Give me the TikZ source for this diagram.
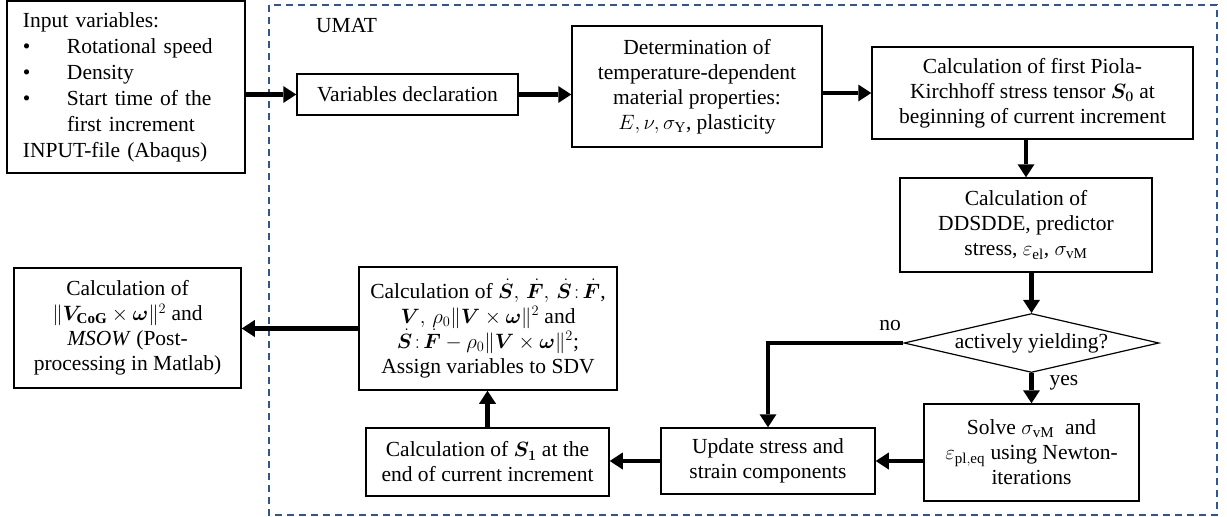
\documentclass[tikz,border=0pt]{standalone}
\usepackage{amsmath}
\usepackage{bm}
\usepackage{fontspec}
\setmainfont{Liberation Serif}
\usetikzlibrary{arrows.meta,shapes.geometric}
\definecolor{frameblue}{RGB}{47,85,151}
\begin{document}
\begin{tikzpicture}[x=1pt,y=-1pt,
  font=\fontsize{21.5}{25}\selectfont,
  box/.style={draw, line width=1.5pt, align=center, inner sep=0pt, fill=white},
  flow/.style={line width=4.5pt, -{Triangle[length=13pt,width=17pt,line width=0pt]}},
  lbl/.style={inner sep=0pt},
  umatframe/.style={draw=frameblue, line width=1.5pt, dash pattern=on 7pt off 5pt}]
\useasboundingbox (0,0) rectangle (1227,517);

\draw[umatframe] (269,5) rectangle (1217,515);
\node[lbl, anchor=west] (umat) at (316,26) {UMAT};

\node[box, align=left, text width=206pt, inner xsep=16pt, minimum height=172pt,
      font=\fontsize{21.5}{26}\selectfont] (input) at (126,87)
  {Input variables:\\
   \makebox[44pt][l]{\textbullet}Rotational speed\\
   \makebox[44pt][l]{\textbullet}Density\\
   \makebox[44pt][l]{\textbullet}Start time of the\\
   \hspace*{44pt}first increment\\
   INPUT-file (Abaqus)};

\node[box, minimum width=221pt, minimum height=41pt] (vars) at (407.5,94.5)
  {Variables declaration};

\node[box, minimum width=250pt, minimum height=121pt] (det) at (697,86.5)
  {Determination of\\ temperature-dependent\\ material properties:\\
   $E, \nu, \sigma_{\mathrm{Y}}$, plasticity};

\node[box, minimum width=321pt, minimum height=92pt] (piola) at (1032.5,93)
  {Calculation of first Piola-\\ Kirchhoff stress tensor $\bm{S}_{\bm{0}}$ at\\
   beginning of current increment};

\node[box, minimum width=252pt, minimum height=94pt] (ddsdde) at (1026,225)
  {Calculation of\\ DDSDDE, predictor\\
   stress, $\varepsilon_{\mathrm{el}}$, $\sigma_{\mathrm{vM}}$};

\node[draw, shape=diamond, line width=1.2pt, inner sep=0pt, aspect=4.3,
      minimum width=255pt, minimum height=59pt, fill=white] (yield) at (1031.5,343)
  {actively yielding?};

\node[box, minimum width=215pt, minimum height=97pt] (solve) at (1031.5,452.5)
  {Solve $\sigma_{\mathrm{vM}}$\ \ and\\
   $\varepsilon_{\mathrm{pl,eq}}$ using Newton-\\ iterations};

\node[box, minimum width=214pt, minimum height=66pt] (update) at (768,461)
  {Update stress and\\ strain components};

\node[box, minimum width=243pt, minimum height=68pt] (sone) at (487.5,462)
  {Calculation of $\bm{S}_{\bm{1}}$ at the\\ end of current increment};

\node[box, minimum width=258pt, minimum height=123pt] (sdv) at (488,328.5)
  {Calculation of $\dot{\bm{S}},\,\dot{\bm{F}},\,\dot{\bm{S}}\colon\!\dot{\bm{F}}$,\\
   $\bm{V},\,\rho_0\|\bm{V}\times\bm{\omega}\|^2$ and\\
   $\dot{\bm{S}}\colon\!\dot{\bm{F}}-\rho_0\|\bm{V}\times\bm{\omega}\|^2$;\\
   Assign variables to SDV};

\node[box, minimum width=227pt, minimum height=120pt] (msow) at (127.5,328)
  {Calculation of\\ $\|\bm{V}_{\mathbf{CoG}}\times\bm{\omega}\|^2$ and\\
   \textit{MSOW} (Post-\\ processing in Matlab)};

\node[lbl] (no) at (890,326) {no};
\node[lbl] (yes) at (1064,383) {yes};

\draw[flow] (input.east |- vars.west) -- (vars.west);
\draw[flow] (vars.east) -- (vars.east -| det.west);
\draw[flow] (det.east |- piola.west) -- (piola.west);
\draw[flow] (piola.south -| ddsdde.north) -- (ddsdde.north);
\draw[flow] (ddsdde.south -| yield.north) -- (yield.north);
\draw[flow] (yield.south) -- (solve.north);
\draw[flow] (yield.west) -| (update.north);
\draw[flow] (solve.west |- update.east) -- (update.east);
\draw[flow] (update.west) -- (update.west -| sone.east);
\draw[flow] (sone.north) -- (sone.north |- sdv.south);
\draw[flow] (sdv.west) -- (sdv.west -| msow.east);
\end{tikzpicture}
\end{document}
